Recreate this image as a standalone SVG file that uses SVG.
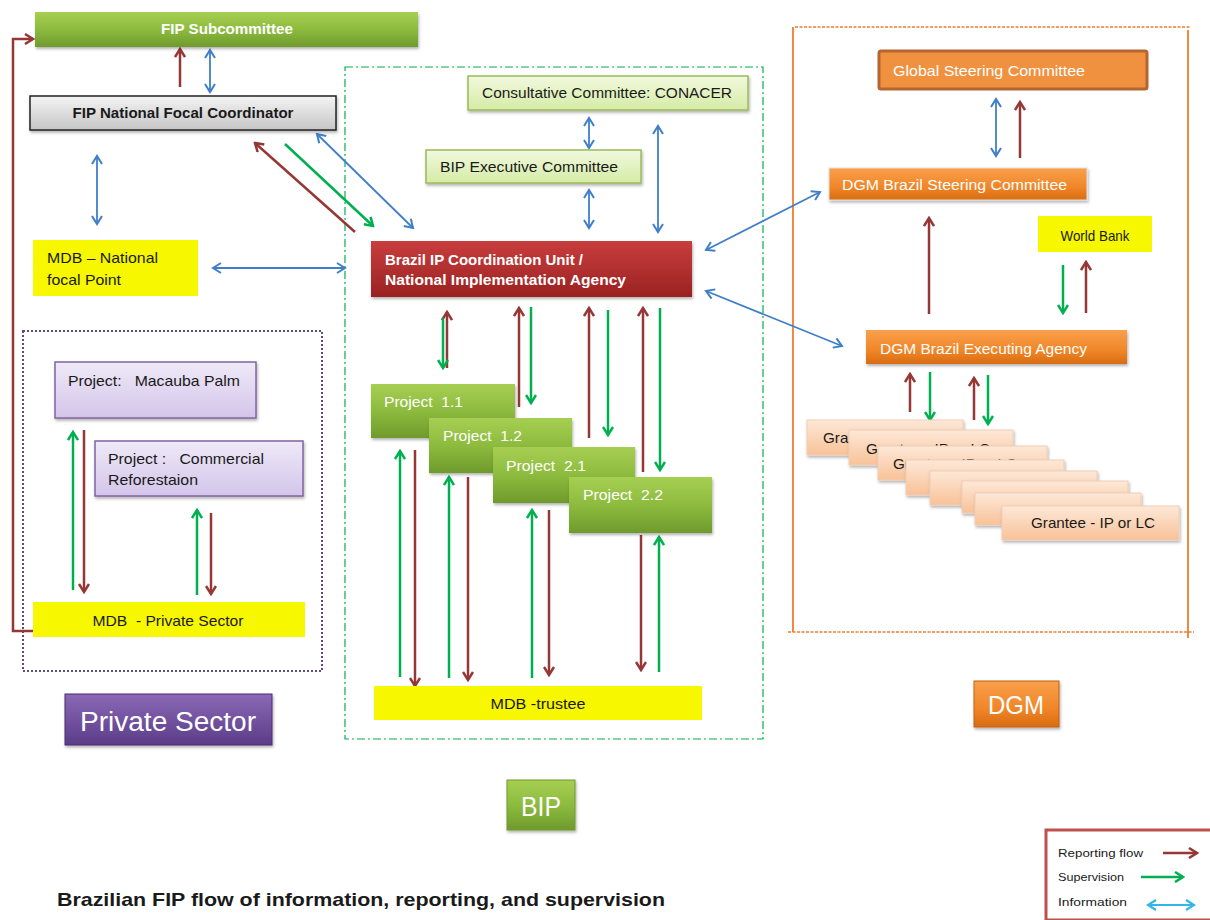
<svg xmlns="http://www.w3.org/2000/svg" width="1210" height="920" viewBox="0 0 1210 920">
<style>
text{font-family:"Liberation Sans",Arial,sans-serif}
.r{stroke:#953735;stroke-width:2.5;fill:none;marker-end:url(#mr)}
.g{stroke:#00b050;stroke-width:2.5;fill:none;marker-end:url(#mg)}
.b{stroke:#3f7fc9;stroke-width:1.8;fill:none;marker-start:url(#mb);marker-end:url(#mb)}
.lb{stroke:#33b5e8;stroke-width:2;fill:none;marker-start:url(#mlb);marker-end:url(#mlb)}
.wt{fill:#ffffff;font-weight:bold}
.bk{fill:#1a1a1a}
.yel{fill:#f7f700}
.gr{fill:url(#gPeach);stroke:#f1cdb4;stroke-width:1;filter:url(#sh)}
</style>
<defs>
<marker id="mr" viewBox="0 0 12 12" refX="10" refY="6" markerWidth="12" markerHeight="12" orient="auto-start-reverse" markerUnits="userSpaceOnUse"><path d="M2,1 L10,6 L2,11" fill="none" stroke="#953735" stroke-width="2.5"/></marker>
<marker id="mg" viewBox="0 0 12 12" refX="10" refY="6" markerWidth="12" markerHeight="12" orient="auto-start-reverse" markerUnits="userSpaceOnUse"><path d="M2,1 L10,6 L2,11" fill="none" stroke="#00b050" stroke-width="2.5"/></marker>
<marker id="mb" viewBox="0 0 12 12" refX="10" refY="6" markerWidth="12" markerHeight="12" orient="auto-start-reverse" markerUnits="userSpaceOnUse"><path d="M2,1 L10,6 L2,11" fill="none" stroke="#3f7fc9" stroke-width="2"/></marker>
<marker id="mlb" viewBox="0 0 12 12" refX="10" refY="6" markerWidth="12" markerHeight="12" orient="auto-start-reverse" markerUnits="userSpaceOnUse"><path d="M2,1 L10,6 L2,11" fill="none" stroke="#33b5e8" stroke-width="2.2"/></marker>
<linearGradient id="gGreen" x1="0" y1="0" x2="0" y2="1"><stop offset="0" stop-color="#a6cf52"/><stop offset="0.5" stop-color="#8dbb3e"/><stop offset="1" stop-color="#6f9a2c"/></linearGradient>
<linearGradient id="gGrey" x1="0" y1="0" x2="0" y2="1"><stop offset="0" stop-color="#f4f4f4"/><stop offset="1" stop-color="#c6c6c6"/></linearGradient>
<linearGradient id="gLav" x1="0" y1="0" x2="0" y2="1"><stop offset="0" stop-color="#efe9f7"/><stop offset="1" stop-color="#d3c5ea"/></linearGradient>
<linearGradient id="gLG" x1="0" y1="0" x2="0" y2="1"><stop offset="0" stop-color="#f1f9de"/><stop offset="1" stop-color="#d5eba6"/></linearGradient>
<linearGradient id="gRed" x1="0" y1="0" x2="0" y2="1"><stop offset="0" stop-color="#c93d3d"/><stop offset="1" stop-color="#9a2222"/></linearGradient>
<linearGradient id="gOr" x1="0" y1="0" x2="0" y2="1"><stop offset="0" stop-color="#f9a04c"/><stop offset="0.6" stop-color="#f08628"/><stop offset="1" stop-color="#d86c12"/></linearGradient>
<linearGradient id="gPeach" x1="0" y1="0" x2="0" y2="1"><stop offset="0" stop-color="#fde8d8"/><stop offset="1" stop-color="#f8c298"/></linearGradient>
<linearGradient id="gPur" x1="0" y1="0" x2="0" y2="1"><stop offset="0" stop-color="#8a69b6"/><stop offset="1" stop-color="#5b3c88"/></linearGradient>
<filter id="sh" x="-10%" y="-20%" width="125%" height="160%"><feDropShadow dx="1" dy="2" stdDeviation="1.5" flood-color="#000" flood-opacity="0.3"/></filter>
</defs>
<rect width="1210" height="920" fill="#ffffff"/>

<g id="containers">
<rect x="23" y="331" width="299" height="340" fill="none" stroke="#604a7b" stroke-width="2" stroke-dasharray="2,2"/>
<rect x="345" y="67" width="418" height="672" fill="none" stroke="#00b050" stroke-width="1.2" stroke-dasharray="8,3,2,3"/>
<path d="M793,27 V632" stroke="#ed7d31" stroke-width="1.8" fill="none"/>
<path d="M1188,30 V638" stroke="#ed7d31" stroke-width="1.8" fill="none"/>
<path d="M795,27 H1190" stroke="#ed7d31" stroke-width="1.5" stroke-dasharray="3,1.5" fill="none"/>
<path d="M788,632 H1194" stroke="#ed7d31" stroke-width="1.5" stroke-dasharray="3,1.5" fill="none"/>
</g>

<g id="connectors">
<path class="r" d="M35,631 H13 V39 H33"/>
<path class="r" d="M180,87 V49"/>
<path class="b" d="M210,50 V92"/>
<path class="b" d="M97,156 V224"/>
<path class="b" d="M213,268 H345"/>
<path class="r" d="M355,232 L255,143"/>
<path class="g" d="M285,144 L373,226"/>
<path class="b" d="M317,134 L413,228"/>
<path class="b" d="M589,118 V148"/>
<path class="b" d="M589,190 V228"/>
<path class="b" d="M658,126 V232"/>
<path class="b" d="M706,250 L820,192"/>
<path class="b" d="M706,291 L842,346"/>
<path class="r" d="M447,368 V312"/>
<path class="g" d="M443,318 V368"/>
<path class="r" d="M519,407 V308"/>
<path class="g" d="M531,307 V403"/>
<path class="r" d="M589,438 V308"/>
<path class="g" d="M608,310 V435"/>
<path class="r" d="M643,472 V308"/>
<path class="g" d="M660,308 V470"/>
<path class="g" d="M400,677 V451"/>
<path class="r" d="M415,450 V686"/>
<path class="g" d="M449,678 V477"/>
<path class="r" d="M468,477 V680"/>
<path class="g" d="M532,678 V510"/>
<path class="r" d="M549,510 V675"/>
<path class="r" d="M641,535 V670"/>
<path class="g" d="M659,672 V537"/>
<path class="g" d="M73,590 V432"/>
<path class="r" d="M84,430 V592"/>
<path class="g" d="M197,595 V510"/>
<path class="r" d="M211,513 V594"/>
<path class="b" d="M996,99 V156"/>
<path class="r" d="M1020,158 V102"/>
<path class="r" d="M929,314 V218"/>
<path class="g" d="M1063,265 V313"/>
<path class="r" d="M1086,313 V262"/>
<path class="r" d="M910,412 V374"/>
<path class="g" d="M930,372 V420"/>
<path class="r" d="M974,420 V378"/>
<path class="g" d="M988,375 V424"/>
</g>

<g id="fip-subcommittee"><rect x="35" y="12" width="383" height="35" fill="url(#gGreen)" filter="url(#sh)"/><text x="227" y="34" text-anchor="middle" font-size="14" class="wt" textLength="132" lengthAdjust="spacingAndGlyphs">FIP Subcommittee</text></g>
<g id="fip-coordinator"><rect x="30" y="96" width="306" height="34" fill="url(#gGrey)" stroke="#222" stroke-width="1.5" filter="url(#sh)"/><text x="183" y="118" text-anchor="middle" font-size="15" font-weight="bold" class="bk" textLength="221" lengthAdjust="spacingAndGlyphs">FIP National Focal Coordinator</text></g>
<g id="mdb-national"><rect x="33" y="240" width="165" height="56" class="yel"/><text x="47" y="263" font-size="15" class="bk" textLength="111" lengthAdjust="spacingAndGlyphs">MDB – National</text><text x="47" y="285" font-size="15" class="bk" textLength="74" lengthAdjust="spacingAndGlyphs">focal Point</text></g>

<g id="project-macauba"><rect x="55" y="362" width="201" height="56" fill="url(#gLav)" stroke="#8064a2" stroke-width="1.5" filter="url(#sh)"/><text x="68" y="386" font-size="15" class="bk" textLength="172" lengthAdjust="spacingAndGlyphs" xml:space="preserve">Project:   Macauba Palm</text></g>
<g id="project-reforestation"><rect x="95" y="441" width="208" height="55" fill="url(#gLav)" stroke="#8064a2" stroke-width="1.5" filter="url(#sh)"/><text x="108" y="464" font-size="15" class="bk" textLength="156" lengthAdjust="spacingAndGlyphs" xml:space="preserve">Project :   Commercial</text><text x="108" y="485" font-size="15" class="bk" textLength="90" lengthAdjust="spacingAndGlyphs">Reforestaion</text></g>
<g id="mdb-private"><rect x="33" y="602" width="272" height="35" class="yel"/><text x="168" y="626" text-anchor="middle" font-size="15" class="bk" textLength="151" lengthAdjust="spacingAndGlyphs" xml:space="preserve">MDB  - Private Sector</text></g>
<g id="label-private"><rect x="65" y="694" width="207" height="51" fill="url(#gPur)" stroke="#4b2f70" stroke-width="1" filter="url(#sh)"/><text x="168" y="731" text-anchor="middle" font-size="27" fill="#ffffff" textLength="176" lengthAdjust="spacingAndGlyphs">Private Sector</text></g>

<g id="conacer"><rect x="468" y="76" width="280" height="34" fill="url(#gLG)" stroke="#9bbb59" stroke-width="1.5" filter="url(#sh)"/><text x="607" y="98" text-anchor="middle" font-size="15" class="bk" textLength="250" lengthAdjust="spacingAndGlyphs">Consultative Committee: CONACER</text></g>
<g id="bip-executive"><rect x="426" y="150" width="215" height="33" fill="url(#gLG)" stroke="#9bbb59" stroke-width="1.5" filter="url(#sh)"/><text x="440" y="172" font-size="15" class="bk" textLength="178" lengthAdjust="spacingAndGlyphs">BIP Executive Committee</text></g>
<g id="brazil-ip"><rect x="371" y="241" width="321" height="56" fill="url(#gRed)" filter="url(#sh)"/><text x="385" y="265" font-size="14" class="wt" textLength="198" lengthAdjust="spacingAndGlyphs">Brazil IP Coordination Unit /</text><text x="385" y="285" font-size="14" class="wt" textLength="241" lengthAdjust="spacingAndGlyphs">National Implementation Agency</text></g>

<g id="project-1-1"><rect x="371" y="384" width="144" height="54" fill="url(#gGreen)" filter="url(#sh)"/><text x="384" y="407" font-size="15" fill="#ffffff" textLength="79" lengthAdjust="spacingAndGlyphs" xml:space="preserve">Project  1.1</text></g>
<g id="project-1-2"><rect x="429" y="418" width="143" height="55" fill="url(#gGreen)" filter="url(#sh)"/><text x="443" y="441" font-size="15" fill="#ffffff" textLength="79" lengthAdjust="spacingAndGlyphs" xml:space="preserve">Project  1.2</text></g>
<g id="project-2-1"><rect x="493" y="447" width="142" height="56" fill="url(#gGreen)" filter="url(#sh)"/><text x="506" y="471" font-size="15" fill="#ffffff" textLength="80" lengthAdjust="spacingAndGlyphs" xml:space="preserve">Project  2.1</text></g>
<g id="project-2-2"><rect x="569" y="477" width="143" height="56" fill="url(#gGreen)" filter="url(#sh)"/><text x="583" y="500" font-size="15" fill="#ffffff" textLength="80" lengthAdjust="spacingAndGlyphs" xml:space="preserve">Project  2.2</text></g>
<g id="mdb-trustee"><rect x="374" y="686" width="328" height="34" class="yel"/><text x="538" y="709" text-anchor="middle" font-size="15" class="bk" textLength="95" lengthAdjust="spacingAndGlyphs">MDB -trustee</text></g>
<g id="label-bip"><rect x="507" y="780" width="68" height="50" fill="url(#gGreen)" stroke="#6f9a2c" stroke-width="1" filter="url(#sh)"/><text x="541" y="816" text-anchor="middle" font-size="27" fill="#ffffff" textLength="40" lengthAdjust="spacingAndGlyphs">BIP</text></g>

<g id="global-steering"><rect x="879" y="51" width="268" height="38" rx="2" fill="#f0913f" stroke="#b5652f" stroke-width="3"/><text x="893" y="76" font-size="14" fill="#ffffff" textLength="192" lengthAdjust="spacingAndGlyphs">Global Steering Committee</text></g>
<g id="dgm-steering"><rect x="829" y="168" width="258" height="32" fill="url(#gOr)" stroke="#e0e0e0" stroke-width="1" filter="url(#sh)"/><text x="842" y="190" font-size="14" fill="#ffffff" textLength="225" lengthAdjust="spacingAndGlyphs">DGM Brazil Steering Committee</text></g>
<g id="world-bank"><rect x="1038" y="216" width="114" height="36" class="yel"/><text x="1095" y="241" text-anchor="middle" font-size="15" class="bk" textLength="69" lengthAdjust="spacingAndGlyphs">World Bank</text></g>
<g id="dgm-executing"><rect x="866" y="330" width="261" height="34" fill="url(#gOr)" filter="url(#sh)"/><text x="880" y="354" font-size="14" fill="#ffffff" textLength="207" lengthAdjust="spacingAndGlyphs">DGM Brazil Executing Agency</text></g>

<g id="grantees">
<g id="grantee-1"><rect x="807" y="420" width="156" height="35" class="gr"/><text x="885" y="443" text-anchor="middle" font-size="15" class="bk" textLength="124" lengthAdjust="spacingAndGlyphs">Grantee - IP or LC</text></g>
<g id="grantee-2"><rect x="849" y="430" width="164" height="35" class="gr"/><text x="928" y="454" text-anchor="middle" font-size="15" class="bk" textLength="124" lengthAdjust="spacingAndGlyphs">Grantee - IP or LC</text></g>
<g id="grantee-3"><rect x="878" y="446" width="169" height="34" class="gr"/><text x="955" y="469" text-anchor="middle" font-size="15" class="bk" textLength="124" lengthAdjust="spacingAndGlyphs">Grantee - IP or LC</text></g>
<g id="grantee-4"><rect x="906" y="460" width="158" height="35" class="gr"/></g>
<g id="grantee-5"><rect x="930" y="471" width="167" height="34" class="gr"/></g>
<g id="grantee-6"><rect x="962" y="481" width="166" height="32" class="gr"/></g>
<g id="grantee-7"><rect x="975" y="493" width="166" height="32" class="gr"/></g>
<g id="grantee-8"><rect x="1002" y="506" width="177" height="34" class="gr"/><text x="1093" y="528" text-anchor="middle" font-size="15" class="bk" textLength="124" lengthAdjust="spacingAndGlyphs">Grantee - IP or LC</text></g>
</g>
<g id="label-dgm"><rect x="974" y="681" width="85" height="46" fill="url(#gOr)" stroke="#c0600e" stroke-width="1" filter="url(#sh)"/><text x="1016" y="714" text-anchor="middle" font-size="25" fill="#ffffff" textLength="56" lengthAdjust="spacingAndGlyphs">DGM</text></g>

<g id="legend">
<rect x="1046" y="830" width="166" height="90" fill="#ffffff" stroke="#c0504d" stroke-width="3"/>
<text x="1058" y="857" font-size="11" class="bk" textLength="85" lengthAdjust="spacingAndGlyphs">Reporting flow</text>
<text x="1058" y="881" font-size="11" class="bk" textLength="66" lengthAdjust="spacingAndGlyphs">Supervision</text>
<text x="1058" y="906" font-size="11" class="bk" textLength="69" lengthAdjust="spacingAndGlyphs">Information</text>
<path class="r" d="M1163,853 H1197"/>
<path class="g" d="M1141,877 H1183"/>
<path class="lb" d="M1148,905 H1194"/>
</g>

<g id="title"><text x="57" y="906" font-size="19" font-weight="bold" class="bk" textLength="608" lengthAdjust="spacingAndGlyphs">Brazilian FIP flow of information, reporting, and supervision</text></g>
</svg>
